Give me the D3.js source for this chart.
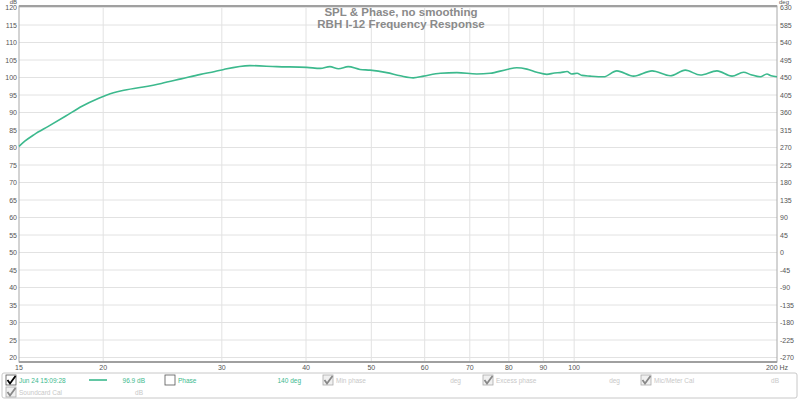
<!DOCTYPE html>
<html>
<head>
<meta charset="utf-8">
<script src="https://cdn.jsdelivr.net/npm/d3@7/dist/d3.min.js"></script>
<style>
  body { margin: 0; background: #fff; }
  svg { display: block; font-family: "Liberation Sans", Arial, sans-serif; }
</style>
</head>
<body>
<svg id="chart" width="800" height="400"></svg>
<script>
// ── Data ──
const freqHz = [15, 15.3, 15.8, 16.6, 17.6, 18.6, 19.7, 20.3, 21.3, 22.8, 24.4, 26.1, 27.9, 29.3, 30.2, 33.0,
  36.2, 40.1, 42.0, 43.4, 44.7, 46.2, 48.1, 49.8, 52.7, 55.2, 57.7, 59.8, 63.3, 67.0, 71.7,
  75.0, 79.5, 82.2, 85.1, 88.0, 91.1, 93.5, 95.4, 97.6, 99.2, 101, 102.7, 105.6, 110.6,
  115.7, 122.5, 130.5, 138.9, 146.2, 153.9, 162.9, 171.5, 178.4, 183, 188.9, 193.2, 196, 200];
const splDb = [80.3, 81.8, 83.7, 86.1, 89.0, 91.8, 94.1, 95.1, 96.2, 97.2, 98.3, 99.6, 100.9, 101.7, 102.3, 103.4,
  103.1, 102.9, 102.6, 103.1, 102.5, 103.1, 102.3, 102.1, 101.4, 100.5, 99.9, 100.4, 101.2, 101.4, 101.0,
  101.2, 102.3, 102.8, 102.4, 101.5, 100.9, 101.3, 101.4, 101.7, 101.0, 101.2, 100.6, 100.4, 100.2,
  101.9, 100.4, 101.9, 100.5, 102.1, 100.7, 101.9, 100.4, 101.5, 100.8, 100.2, 101.0, 100.5, 100.2];

const xTicks = [15, 20, 30, 40, 50, 60, 70, 80, 90, 100, 200];
const xGrid = [20, 30, 40, 50, 60, 70, 80, 90, 100];
const dbTicks = d3.range(20, 121, 5);
const degTicks = d3.range(-270, 631, 45);

const legendRow1 = [
  { x: 6, check: true, dark: true, label: "Jun 24 15:09:28", color: "#3cb98d" },
  { x: 165, check: false, dark: true, label: "Phase", color: "#3cb98d" },
  { x: 323, check: true, label: "Min phase", color: "#c8c8c8" },
  { x: 483, check: true, label: "Excess phase", color: "#c8c8c8" },
  { x: 641, check: true, label: "Mic/Meter Cal", color: "#c8c8c8" }
];
const legendValues = [
  { x: 145, text: "96.9 dB", color: "#3cb98d" },
  { x: 301, text: "140 deg", color: "#3cb98d" },
  { x: 461, text: "deg", color: "#c8c8c8" },
  { x: 620, text: "deg", color: "#c8c8c8" },
  { x: 779, text: "dB", color: "#c8c8c8" }
];

const lineColor = "#3cb98d";
const svg = d3.select("#chart");

// plot frame
const plotL = 19, plotR = 777, plotT = 6, plotB = 362;
const x = d3.scaleLog().domain([15, 200]).range([plotL, plotR]);
const y = d3.scaleLinear().domain([20, 120]).range([357.5, 7.5]);
const yDeg = d3.scaleLinear().domain([-270, 630]).range([357.5, 7.5]);

// ── Grid ──
svg.append("g").selectAll("line").data(dbTicks).join("line")
  .attr("x1", plotL).attr("x2", plotR)
  .attr("y1", d => y(d)).attr("y2", d => y(d))
  .attr("stroke", "#e2e2e2").attr("stroke-width", 1);

svg.append("g").selectAll("line").data(xGrid).join("line")
  .attr("x1", d => x(d)).attr("x2", d => x(d))
  .attr("y1", plotT).attr("y2", plotB)
  .attr("stroke", "#e2e2e2").attr("stroke-width", 1);

// ── Frame ──
svg.append("rect")
  .attr("x", plotL).attr("y", plotT).attr("width", plotR - plotL).attr("height", plotB - plotT)
  .attr("fill", "none").attr("stroke", "#a8a8a8").attr("stroke-width", 1);
svg.append("line").attr("x1", plotL).attr("x2", plotR).attr("y1", plotT).attr("y2", plotT)
  .attr("stroke", "#a0a0a0").attr("stroke-width", 2);
svg.append("line").attr("x1", plotL).attr("x2", plotR).attr("y1", plotB).attr("y2", plotB)
  .attr("stroke", "#a0a0a0").attr("stroke-width", 2);

// ── Axis labels ──
const tickFont = 7;
svg.append("g").selectAll("text").data(dbTicks).join("text")
  .attr("x", 17).attr("y", d => y(d) + 2.5)
  .attr("text-anchor", "end").attr("font-size", tickFont).attr("fill", "#555")
  .text(d => d);
svg.append("text").attr("x", 17).attr("y", 4).attr("text-anchor", "end")
  .attr("font-size", 6).attr("fill", "#555").text("dB");

svg.append("g").selectAll("text").data(degTicks).join("text")
  .attr("x", 780).attr("y", d => yDeg(d) + 2.5)
  .attr("font-size", tickFont).attr("fill", "#555")
  .text(d => d);
svg.append("text").attr("x", 779).attr("y", 4)
  .attr("font-size", 6).attr("fill", "#555").text("deg");

svg.append("g").selectAll("text").data(xTicks).join("text")
  .attr("x", d => x(d)).attr("y", 370)
  .attr("text-anchor", "middle").attr("font-size", tickFont).attr("fill", "#555")
  .text(d => d === 200 ? "200 Hz" : d);

// ── Title ──
svg.append("text").attr("x", 401).attr("y", 16).attr("text-anchor", "middle")
  .attr("font-size", 11.5).attr("font-weight", "bold").attr("fill", "#8a8a8a")
  .text("SPL & Phase, no smoothing");
svg.append("text").attr("x", 401).attr("y", 28).attr("text-anchor", "middle")
  .attr("font-size", 11.5).attr("font-weight", "bold").attr("fill", "#8a8a8a")
  .text("RBH I-12 Frequency Response");

// ── SPL curve ──
const line = d3.line()
  .x((d, i) => x(freqHz[i]))
  .y(d => y(d))
  .curve(d3.curveMonotoneX);
svg.append("path")
  .datum(splDb)
  .attr("d", line)
  .attr("fill", "none")
  .attr("stroke", lineColor)
  .attr("stroke-width", 1.6);

// ── Legend panel ──
svg.append("rect").attr("x", 2).attr("y", 373).attr("width", 795).attr("height", 25)
  .attr("rx", 2).attr("fill", "#fff").attr("stroke", "#c8c8c8").attr("stroke-width", 1);

function checkbox(g, bx, by, checked, dark) {
  g.append("rect").attr("x", bx).attr("y", by).attr("width", 10).attr("height", 10)
    .attr("fill", dark ? "#fff" : "#f0f0f0")
    .attr("stroke", dark ? "#555" : "#aaa").attr("stroke-width", 0.8);
  if (checked) {
    g.append("path")
      .attr("d", `M${bx + 1.5},${by + 5} L${bx + 4},${by + 8.5} L${bx + 9.5},${by + 1}`)
      .attr("fill", "none")
      .attr("stroke", dark ? "#000" : "#888").attr("stroke-width", 1.8);
  }
}

const leg = svg.append("g");
legendRow1.forEach(item => {
  checkbox(leg, item.x, 375, item.check, item.dark);
  leg.append("text").attr("x", item.x + 13).attr("y", 383)
    .attr("font-size", 6.5).attr("fill", item.color).text(item.label);
});
legendValues.forEach(v => {
  leg.append("text").attr("x", v.x).attr("y", 383).attr("text-anchor", "end")
    .attr("font-size", 6.5).attr("fill", v.color).text(v.text);
});
leg.append("line").attr("x1", 89).attr("x2", 107).attr("y1", 380).attr("y2", 380)
  .attr("stroke", lineColor).attr("stroke-width", 1.6);

checkbox(leg, 6, 387, true, false);
leg.append("text").attr("x", 19).attr("y", 395).attr("font-size", 6.5)
  .attr("fill", "#c8c8c8").text("Soundcard Cal");
leg.append("text").attr("x", 143).attr("y", 395).attr("text-anchor", "end")
  .attr("font-size", 6.5).attr("fill", "#c8c8c8").text("dB");
</script>
</body>
</html>
